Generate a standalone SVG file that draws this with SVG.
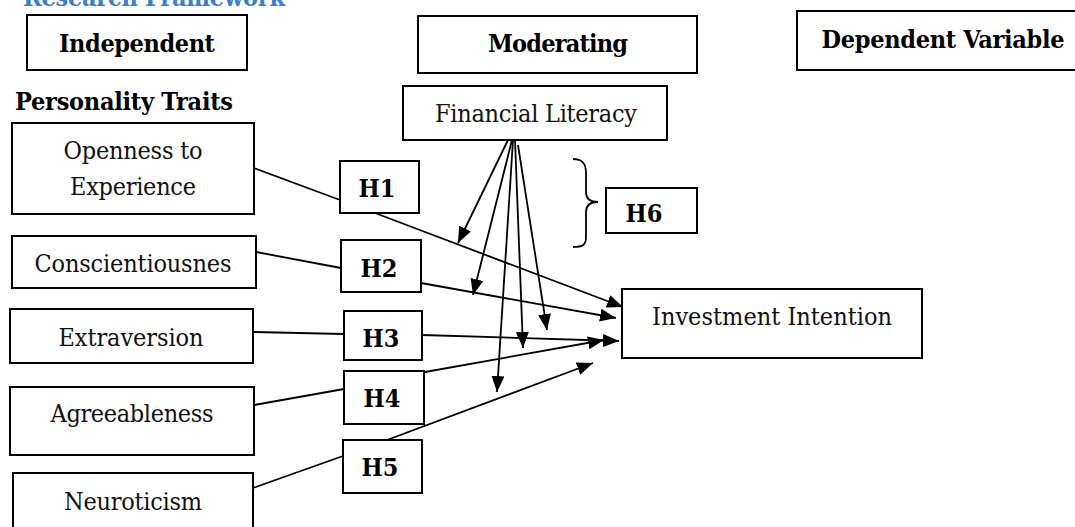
<svg xmlns="http://www.w3.org/2000/svg" width="1075" height="527" viewBox="0 0 1075 527">
<style>
.box{fill:#fff;stroke:#000;stroke-width:2}
.t{font-family:"DejaVu Serif Condensed","DejaVu Serif",serif;font-stretch:condensed;font-size:25px;fill:#111;text-anchor:middle}
.b{font-family:"DejaVu Serif Condensed","DejaVu Serif",serif;font-stretch:condensed;font-size:25px;font-weight:bold;fill:#000;text-anchor:middle}
.h{font-family:"DejaVu Serif Condensed","DejaVu Serif",serif;font-stretch:condensed;font-size:25px;font-weight:bold;fill:#000;text-anchor:middle}
.ln{fill:none;stroke:#000;stroke-width:1.8}
.ar{fill:none;stroke:#000;stroke-width:1.8;marker-end:url(#ah)}
</style>
<defs>
<marker id="ah" markerUnits="userSpaceOnUse" markerWidth="18" markerHeight="14" refX="16" refY="6.5" orient="auto">
<path d="M0,0 L16,6.5 L0,13 z" fill="#000"/>
</marker>
</defs>
<rect width="1075" height="527" fill="#fff"/>
<text x="154" y="6" class="b" style="fill:#3F7FC6" textLength="262">Research Framework</text>
<text x="124" y="110" class="b" textLength="218">Personality Traits</text>

<g id="connectors">
<line class="ln" x1="254" y1="168" x2="340" y2="200"/>
<line class="ln" x1="256" y1="252" x2="341" y2="268"/>
<line class="ln" x1="253" y1="332" x2="344" y2="334"/>
<line class="ln" x1="254" y1="405" x2="344" y2="389"/>
<line class="ln" x1="253" y1="488" x2="343" y2="456"/>
<line class="ar" x1="375" y1="213" x2="623" y2="307"/>
<line class="ar" x1="421" y1="283" x2="616" y2="318"/>
<line class="ar" x1="422" y1="335" x2="619" y2="341"/>
<line class="ar" x1="425" y1="372" x2="604" y2="340"/>
<line class="ar" x1="387" y1="440" x2="593" y2="363"/>
<line class="ar" x1="508" y1="140" x2="458" y2="243"/>
<line class="ar" x1="512" y1="140" x2="473" y2="295"/>
<line class="ar" x1="513" y1="140" x2="497" y2="392"/>
<line class="ar" x1="515" y1="140" x2="523" y2="348"/>
<line class="ar" x1="518" y1="145" x2="547" y2="330"/>
<path class="ln" d="M573,159 C583,159 586,164 586,173 L586,192 C586,199 590,202 598,202 C590,202 586,205 586,212 L586,237 C586,245 583,247 573,247"/>
</g>

<g id="independent"><rect class="box" x="27" y="15" width="220" height="55"/><text x="137" y="52" class="b" textLength="156">Independent</text></g>
<g id="moderating"><rect class="box" x="418" y="16" width="279" height="57"/><text x="558" y="52" class="b" textLength="140">Moderating</text></g>
<g id="dependent"><rect class="box" x="797" y="11" width="285" height="59"/><text x="943" y="48" class="b" textLength="243">Dependent Variable</text></g>
<g id="financial"><rect class="box" x="403" y="86" width="264" height="54"/><text x="536" y="122" class="t" textLength="202">Financial Literacy</text></g>
<g id="openness"><rect class="box" x="12" y="123" width="242" height="91"/><text x="133" y="159" class="t" textLength="139">Openness to</text><text x="133" y="195" class="t" textLength="126">Experience</text></g>
<g id="conscientiousness"><rect class="box" x="12" y="236" width="244" height="52"/><text x="133" y="272" class="t" textLength="197">Conscientiousnes</text></g>
<g id="extraversion"><rect class="box" x="10" y="309" width="243" height="54"/><text x="131" y="346" class="t" textLength="145">Extraversion</text></g>
<g id="agreeableness"><rect class="box" x="10" y="387" width="244" height="68"/><text x="132" y="422" class="t" textLength="163">Agreeableness</text></g>
<g id="neuroticism"><rect class="box" x="13" y="473" width="240" height="70"/><text x="133" y="510" class="t" textLength="138">Neuroticism</text></g>
<g id="investment"><rect class="box" x="622" y="289" width="300" height="69"/><text x="772" y="325" class="t" textLength="240">Investment Intention</text></g>
<g id="h1"><rect class="box" x="340" y="161" width="79" height="52"/><text x="377" y="197" class="h">H1</text></g>
<g id="h2"><rect class="box" x="341" y="240" width="80" height="52"/><text x="379" y="277" class="h">H2</text></g>
<g id="h3"><rect class="box" x="344" y="311" width="78" height="49"/><text x="381" y="347" class="h">H3</text></g>
<g id="h4"><rect class="box" x="344" y="371" width="80" height="53"/><text x="382" y="407" class="h">H4</text></g>
<g id="h5"><rect class="box" x="343" y="440" width="79" height="53"/><text x="380" y="476" class="h">H5</text></g>
<g id="h6"><rect class="box" x="606" y="188" width="91" height="45"/><text x="644" y="222" class="h">H6</text></g>
</svg>
